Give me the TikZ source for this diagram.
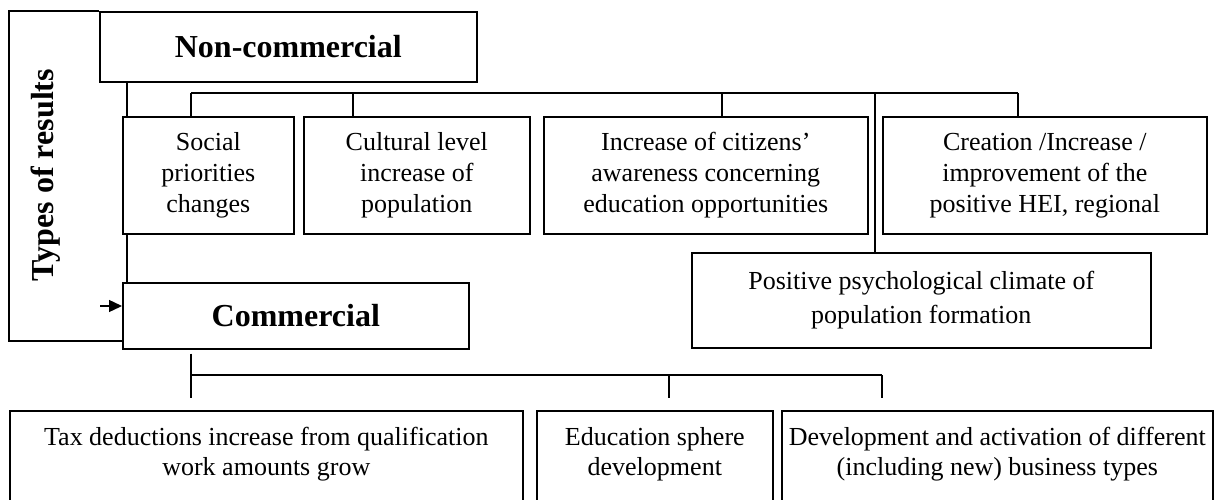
\documentclass[tikz,border=0pt]{standalone}
\usepackage{fontspec}
\setmainfont{Liberation Serif}
\usetikzlibrary{arrows.meta,backgrounds}
\begin{document}
\begin{tikzpicture}[x=1pt,y=-1pt,
  box/.style={draw, line width=1.6pt, fill=white, inner sep=0pt, align=center,
    anchor=north west, font=\fontsize{26}{31}\selectfont},
  head/.style={box, font=\fontsize{32}{38}\selectfont\bfseries},
  lbl/.style={inner sep=0pt, align=center, anchor=north, font=\fontsize{26}{30}\selectfont},
  wire/.style={line width=1.4pt}]
\useasboundingbox (0,0) rectangle (1215,500);
\clip (0,0) rectangle (1215,500);

% result groups
\node[head, minimum width=377pt, minimum height=70pt] (nc) at (99,11) {Non-commercial};
\node[head, minimum width=346pt, minimum height=66pt] (comm) at (122,282) {Commercial};

% non-commercial results
\node[box, minimum width=171pt, minimum height=117pt] (social) at (122,116) {Social\\priorities\\changes};
\node[box, minimum width=226pt, minimum height=117pt] (cult) at (303,116) {Cultural level\\increase of\\population};
\node[box, minimum width=324pt, minimum height=117pt] (aware) at (543,116) {Increase of citizens’\\awareness concerning\\education opportunities};
\node[box, minimum width=324pt, minimum height=117pt] (creat) at (882,116) {Creation /Increase /\\improvement of the\\positive HEI, regional};
\node[box, minimum width=459pt, minimum height=95pt, font=\fontsize{26}{34}\selectfont] (posit) at (691,252) {Positive psychological climate of\\population formation};

% commercial results (boxes run past the lower edge)
\node[box, minimum width=513pt, minimum height=110pt] (tax) at (9,410) {};
\node[box, minimum width=236pt, minimum height=110pt] (edu) at (536,410) {};
\node[box, minimum width=431pt, minimum height=110pt] (dev) at (781,410) {};
\node[lbl] (taxT) at ([yshift=-17pt]tax.north) {Tax deductions increase from qualification\\work amounts grow};
\node[lbl] (eduT) at ([yshift=-17pt]edu.north) {Education sphere\\development};
\node[lbl] (devT) at ([yshift=-17pt]dev.north) {Development and activation of different\\(including new) business types};

% side label
\node[inner sep=0pt, rotate=90, font=\fontsize{32}{38}\selectfont\bfseries] (types) at (46,175) {Types of results};

% branch points
\coordinate (spine) at (127,0);
\coordinate (frame) at (9,341);
\coordinate (arr) at (100,306);
\coordinate (busL) at (191,93);
\coordinate (k1) at (353,93);
\coordinate (k2) at (722,93);
\coordinate (k3) at (875,93);
\coordinate (busR) at (1018,93);
\coordinate (cb) at (191,375);
\coordinate (c2) at (669,375);
\coordinate (c3) at (882,375);

\begin{scope}[on background layer]
  % frame around the groups
  \draw[wire] (frame -| comm.west) -- (frame) -- (frame |- nc.north) -- (nc.north west);
  % link between the two groups
  \draw[wire] (spine |- nc.south) -- (spine |- comm.north);
  % non-commercial bus
  \draw[wire] (busL) -- (busR);
  \draw[wire] (busL) -- (busL |- social.north);
  \draw[wire] (k1) -- (k1 |- cult.north);
  \draw[wire] (k2) -- (k2 |- aware.north);
  \draw[wire] (busR) -- (busR |- creat.north);
  \draw[wire] (k3) -- (k3 |- posit.north);
  % commercial bus
  \draw[wire] ([yshift=-4pt]comm.south -| cb) -- (cb) -- (c3);
  \draw[wire] (cb) -- ([yshift=12pt]tax.north -| cb);
  \draw[wire] (c2) -- ([yshift=12pt]edu.north -| c2);
  \draw[wire] (c3) -- ([yshift=12pt]dev.north -| c3);
\end{scope}

\draw[wire, -{Triangle[length=13pt, width=12pt]}] (arr) -- (arr -| comm.west);
\end{tikzpicture}
\end{document}
